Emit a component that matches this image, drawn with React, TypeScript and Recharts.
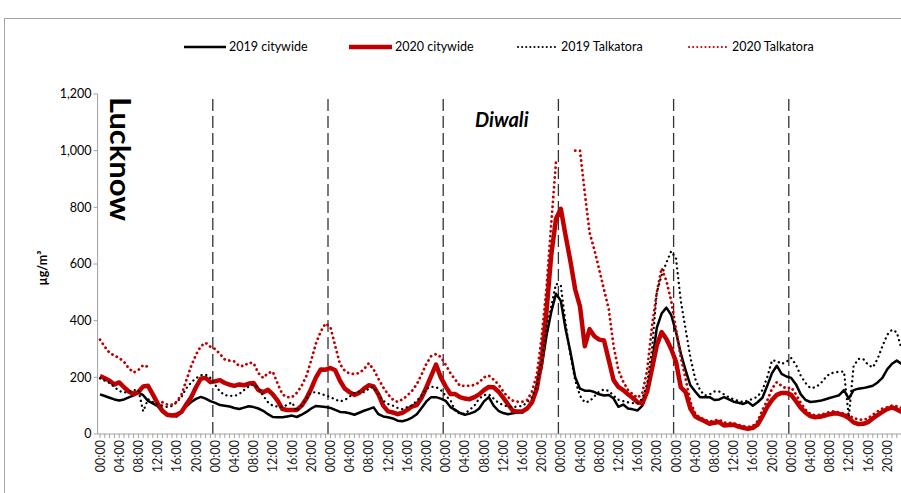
import React from "react";
import { LineChart, Line, XAxis, YAxis, ReferenceLine } from "recharts";

// hour of the week, 7 days x 24 hours
const hours: number[] = Array.from({ length: 168 }, (_, i) => i);
const dayTickLabels = ["00:00", "04:00", "08:00", "12:00", "16:00", "20:00"];
const dayBreaks = [24, 48, 72, 96, 120, 144];
const yTicks = [0, 200, 400, 600, 800, 1000, 1200];

// hourly PM2.5 (µg/m³)
const citywide2019 = [
  140, 134, 128, 122, 118, 122, 129, 136, 146, 137, 117, 108, 98, 78, 66, 64, 62, 80, 98, 113, 124, 131, 125, 116,
  110, 102, 100, 97, 92, 88, 93, 98, 95, 90, 82, 70, 60, 59, 59, 62, 65, 60, 68, 78, 90, 99, 97, 95,
  92, 85, 78, 77, 73, 68, 75, 82, 88, 94, 70, 62, 59, 55, 47, 45, 50, 58, 70, 92, 115, 130, 130, 125,
  117, 95, 85, 74, 68, 72, 78, 90, 115, 130, 100, 82, 74, 70, 73, 76, 76, 92, 115, 170, 235, 345, 430, 495,
  470, 370, 290, 200, 160, 153, 153, 148, 140, 136, 138, 125, 96, 104, 90, 87, 83, 100, 150, 250, 375, 425, 446, 420,
  360, 285, 225, 172, 150, 130, 130, 130, 120, 122, 130, 122, 114, 110, 106, 113, 100, 112, 128, 170, 215, 241, 212, 203,
  198, 175, 140, 120, 113, 115, 117, 122, 127, 132, 137, 155, 125, 155, 160, 162, 166, 170, 182, 198, 228, 248, 259, 247,
];

const citywide2020 = [
  205, 197, 188, 175, 182, 165, 150, 141, 148, 168, 170, 140, 108, 82, 68, 65, 68, 78, 105, 130, 165, 195, 198, 183,
  186, 190, 180, 174, 170, 175, 172, 178, 180, 155, 147, 156, 140, 118, 88, 85, 85, 85, 100, 125, 160, 200, 228, 227,
  233, 225, 188, 160, 148, 138, 145, 160, 172, 168, 140, 100, 80, 76, 70, 75, 85, 97, 102, 128, 165, 205, 245, 200,
  168, 141, 141, 130, 125, 123, 130, 140, 155, 166, 165, 150, 128, 105, 82, 79, 80, 90, 112, 160, 260, 430, 630, 760,
  795, 700, 610, 510, 450, 310, 370, 345, 333, 330, 260, 190, 166, 155, 140, 127, 112, 108, 150, 230, 312, 360, 335, 300,
  255, 165, 148, 90, 62, 53, 45, 36, 40, 42, 30, 32, 33, 26, 22, 18, 22, 33, 62, 95, 120, 138, 145, 145,
  138, 116, 92, 75, 63, 59, 61, 65, 70, 73, 71, 66, 56, 41, 35, 36, 42, 55, 67, 78, 88, 94, 87, 77,
];

const talkatora2019 = [
  196, 188, 180, 166, 152, 146, 149, 155, 155, 80, 123, 113, 105, 100, 95, 99, 112, 132, 162, 182, 197, 207, 210, 198,
  173, 150, 137, 135, 134, 141, 155, 168, 176, 162, 135, 112, 100, 97, 95, 103, 112, 80, 100, 125, 147, 147, 142, 136,
  130, 122, 115, 120, 132, 145, 150, 148, 160, 166, 140, 118, 106, 100, 92, 88, 95, 100, 118, 135, 160, 166, 166, 155,
  135, 120, 80, 72, 72, 85, 100, 125, 137, 140, 125, 110, 102, 97, 95, 97, 99, 112, 130, 170, 255, 375, 450, 530,
  525, 390, 280, 190, 135, 112, 115, 133, 150, 157, 152, 135, 121, 116, 112, 109, 108, 125, 180, 300, 500, 560, 605, 645,
  620, 470, 370, 270, 195, 155, 136, 140, 150, 150, 140, 130, 122, 117, 113, 118, 124, 132, 155, 200, 260, 258, 247, 255,
  268, 244, 205, 180, 162, 165, 176, 196, 213, 217, 220, 220, 60, 240, 265, 265, 245, 235, 265, 310, 350, 368, 359, 300,
];

const talkatora2020 = [
  333, 308, 286, 277, 268, 255, 232, 217, 226, 243, 237, null, null, 112, 104, 104, 114, 140, 190, 240, 280, 310, 322, 308,
  300, 282, 263, 259, 256, 240, 240, 252, 250, 215, 198, 215, 220, 178, 140, 130, 130, 145, 170, 205, 260, 320, 362, 390,
  377, 311, 247, 223, 213, 212, 215, 229, 250, 228, 195, 165, 140, 122, 113, 122, 135, 152, 176, 210, 248, 275, 282, 272,
  245, 215, 192, 170, 170, 170, 173, 182, 200, 206, 192, 175, 150, 130, 118, 114, 114, 120, 150, 210, 340, 510, 740, 960,
  null, null, null, 1000, 1000, 850, 710, 650, 580, 510, 440, 310, 225, 185, 155, 140, 128, 145, 225, 380, 500, 585, 540, 470,
  370, 270, 195, 113, 72, 58, 50, 44, 48, 50, 40, 40, 38, 32, 28, 25, 28, 45, 85, 118, 160, 183, 170, 160,
  165, 140, 110, 86, 70, 66, 68, 72, 78, 80, 76, 72, 66, 56, 52, 50, 55, 68, 80, 90, 94, 100, 98, 92,
];

const series = [
  { key: "c2019", name: "2019 citywide", color: "#000000", width: 2.5, dash: undefined as string | undefined },
  { key: "c2020", name: "2020 citywide", color: "#c00000", width: 4.5, dash: undefined as string | undefined },
  { key: "t2019", name: "2019 Talkatora", color: "#000000", width: 2.3, dash: "0.1 4.8" },
  { key: "t2020", name: "2020 Talkatora", color: "#c00000", width: 2.8, dash: "0.1 4.8" },
];

const rows = hours.map((h) => ({
  h,
  c2019: citywide2019[h],
  c2020: citywide2020[h],
  t2019: talkatora2019[h],
  t2020: talkatora2020[h],
}));

const FONT = "Lato, 'DejaVu Sans', sans-serif";

const HourTick = (props: any) => {
  const { x, y, payload } = props;
  const h = payload.value as number;
  if (h % 4 !== 0) return <g />;
  const label = dayTickLabels[(h % 24) / 4];
  return (
    <text
      x={x}
      y={y}
      transform={`rotate(-90 ${x} ${y})`}
      textAnchor="end"
      dominantBaseline="central"
      fontSize={12.5}
      fontFamily={FONT}
      fill="#222"
    >
      {label}
    </text>
  );
};

// legend drawn by hand, same place as in the source picture
const legendSpots = [
  { x1: 184, x2: 226, tx: 229 },
  { x1: 349, x2: 392, tx: 395 },
  { x1: 518, x2: 556, tx: 561 },
  { x1: 689, x2: 727, tx: 732 },
];

export default function App() {
  return (
    <div
      style={{
        position: "fixed",
        left: 0,
        top: 0,
        width: 901,
        height: 493,
        overflow: "hidden",
        background: "#fff",
      }}
    >
      <div
        style={{
          position: "absolute",
          left: 4,
          top: 18,
          width: 1000,
          height: 1000,
          border: "1px solid #a6a6a6",
        }}
      />
      <div style={{ position: "absolute", left: 0, top: 0 }}>
        <LineChart
          width={925}
          height={493}
          data={rows}
          margin={{ top: 94, right: 21, bottom: 0, left: 0 }}
        >
          <XAxis
            dataKey="h"
            type="number"
            domain={[-0.5, 167.5]}
            ticks={hours}
            interval={0}
            height={59}
            tickSize={4}
            tickLine={{ stroke: "#a0a0a0" }}
            axisLine={{ stroke: "#a0a0a0" }}
            tick={<HourTick />}
          />
          <YAxis
            type="number"
            domain={[0, 1200]}
            ticks={yTicks}
            width={97.6}
            tickSize={4}
            tickLine={{ stroke: "#a0a0a0" }}
            axisLine={{ stroke: "#a0a0a0" }}
            tickFormatter={(v: number) => v.toLocaleString("en-US")}
            tick={{ fontSize: 12.5, fill: "#000", fontFamily: FONT }}
          />
          {dayBreaks.map((d) => (
            <ReferenceLine
              key={d}
              x={d - 0.5}
              stroke="#333"
              strokeWidth={1.3}
              strokeDasharray="12 5"
            />
          ))}
          {series.map((s) => (
            <Line
              key={s.key}
              dataKey={s.key}
              name={s.name}
              type="linear"
              stroke={s.color}
              strokeWidth={s.width}
              strokeDasharray={s.dash}
              strokeLinecap={s.dash ? "round" : "butt"}
              strokeLinejoin="round"
              dot={false}
              activeDot={false}
              isAnimationActive={false}
            />
          ))}
        </LineChart>
      </div>
      <svg
        width={901}
        height={493}
        style={{ position: "absolute", left: 0, top: 0, pointerEvents: "none" }}
      >
        {series.map((s, i) => (
          <g key={s.key}>
            <line
              x1={legendSpots[i].x1}
              x2={legendSpots[i].x2}
              y1={47}
              y2={47}
              stroke={s.color}
              strokeWidth={s.dash ? 2 : s.width}
              strokeDasharray={s.dash ? "0.1 4" : undefined}
              strokeLinecap={s.dash ? "round" : "butt"}
            />
            <text
              x={legendSpots[i].tx}
              y={51}
              fontSize={12.5}
              fontFamily={FONT}
              fill="#000"
            >
              {s.name}
            </text>
          </g>
        ))}
        <text
          x={121}
          y={97}
          transform="rotate(90 121 97)"
          dominantBaseline="central"
          fontSize={28}
          fontWeight="bold"
          fontFamily={FONT}
          textLength={124}
          lengthAdjust="spacingAndGlyphs"
          fill="#000"
        >
          Lucknow
        </text>
        <text
          x={475}
          y={127}
          fontSize={20}
          fontWeight="bold"
          fontStyle="italic"
          fontFamily={FONT}
          fill="#000"
        >
          Diwali
        </text>
        <text
          x={47}
          y={268}
          transform="rotate(-90 47 268)"
          textAnchor="middle"
          fontSize={12.5}
          fontWeight="bold"
          fontFamily={FONT}
          fill="#000"
        >
          µg/m³
        </text>
      </svg>
    </div>
  );
}
